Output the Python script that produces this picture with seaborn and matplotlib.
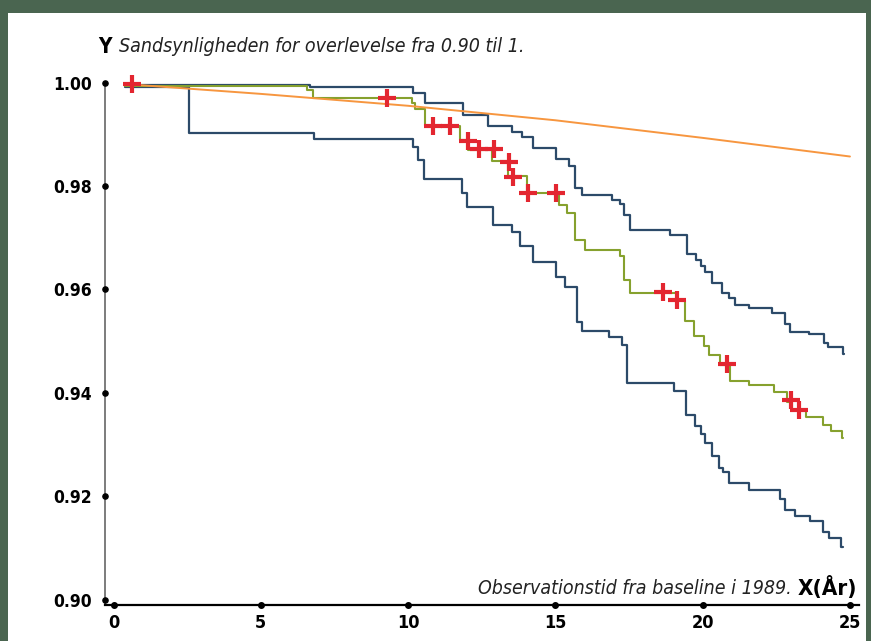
import matplotlib
matplotlib.use("Agg")
import matplotlib.pyplot as plt
import seaborn as sns
from matplotlib.patches import Rectangle

# --- data (time in years, survival probability) ---
upper_t = [0.39, 6.67, 10.16, 10.56, 11.88, 12.70, 13.53, 13.87, 14.23, 15.02, 15.45,
           15.68, 15.91, 16.92, 17.20, 17.32, 17.54, 18.90, 19.47, 19.79, 19.96, 20.09,
           20.32, 20.66, 20.88, 21.11, 21.56, 22.36, 22.81, 22.98, 23.60, 24.11, 24.25,
           24.75, 24.80]
upper_s = [0.9996, 0.9991, 0.9980, 0.9961, 0.9937, 0.9916, 0.9905, 0.9895, 0.9873, 0.9852, 0.9839,
           0.9797, 0.9783, 0.9772, 0.9765, 0.9744, 0.9715, 0.9705, 0.9669, 0.9657, 0.9645, 0.9633,
           0.9612, 0.9594, 0.9583, 0.9570, 0.9564, 0.9554, 0.9533, 0.9518, 0.9514, 0.9496, 0.9488,
           0.9475, 0.9475]

lower_t = [0.39, 2.57, 6.79, 10.16, 10.35, 10.55, 11.83, 12.00, 12.89, 13.51, 13.81, 14.24,
           15.01, 15.34, 15.73, 15.92, 16.81, 17.26, 17.44, 19.02, 19.45, 19.74, 19.94, 20.08,
           20.32, 20.56, 20.69, 20.88, 21.56, 22.64, 22.81, 23.15, 23.66, 24.08, 24.28, 24.71,
           24.76]
lower_s = [0.9992, 0.9902, 0.9891, 0.9876, 0.9851, 0.9813, 0.9786, 0.9760, 0.9725, 0.9712, 0.9684, 0.9654,
           0.9625, 0.9604, 0.9538, 0.9519, 0.9509, 0.9493, 0.9419, 0.9403, 0.9358, 0.9336, 0.9321, 0.9303,
           0.9279, 0.9256, 0.9248, 0.9227, 0.9213, 0.9195, 0.9174, 0.9162, 0.9152, 0.9131, 0.9120, 0.9103,
           0.9103]

km_t = [0.39, 6.57, 6.78, 10.14, 10.22, 10.58, 11.77, 12.02, 12.85, 13.38, 14.04, 15.12,
        15.39, 15.68, 16.00, 17.20, 17.32, 17.52, 19.13, 19.41, 19.69, 20.03, 20.20, 20.60,
        20.92, 21.56, 22.41, 22.87, 23.04, 23.51, 24.09, 24.34, 24.73, 24.78]
km_s = [0.9994, 0.9986, 0.9971, 0.9960, 0.9948, 0.9915, 0.9889, 0.9870, 0.9849, 0.9819, 0.9786, 0.9763,
        0.9748, 0.9695, 0.9677, 0.9665, 0.9618, 0.9594, 0.9580, 0.9539, 0.9510, 0.9491, 0.9473, 0.9454,
        0.9424, 0.9416, 0.9401, 0.9383, 0.9367, 0.9353, 0.9338, 0.9327, 0.9313, 0.9313]

censor_t = [0.62, 9.30, 10.86, 11.43, 12.02, 12.42, 12.90, 13.41, 13.56, 14.07, 15.03,
            18.65, 19.13, 20.83, 23.00, 23.26]
censor_s = [0.9997, 0.9971, 0.9915, 0.9915, 0.9886, 0.9871, 0.9871, 0.9847, 0.9818, 0.9786, 0.9786,
            0.9596, 0.9579, 0.9456, 0.9387, 0.9367]

expected_t = [0.4, 5, 10, 15, 20, 25]
expected_s = [0.9997, 0.9978, 0.9955, 0.9927, 0.9893, 0.9857]

x_ticks = [0, 5, 10, 15, 20, 25]
y_ticks = [0.90, 0.92, 0.94, 0.96, 0.98, 1.00]

navy = '#2c4a69'
green = '#86a12e'
orange = '#f7963f'
red = '#e32630'

sns.set_style("white")
plt.rcParams['font.family'] = ['DejaVu Sans']
plt.rcParams['font.stretch'] = 'condensed'

W, H = 871, 641
fig = plt.figure(figsize=(W / 100, H / 100), dpi=100)
fig.patch.set_facecolor('#4a6550')
fig.add_artist(Rectangle((8 / W, 0), (866 - 8) / W, (H - 13) / H, transform=fig.transFigure,
                         facecolor='white', edgecolor='none', zorder=0))

ax = fig.add_axes([104.7 / W, 36.5 / H, 754.1 / W, 522 / H])
ax.patch.set_alpha(0)

# confidence band borders and survival curve
sns.lineplot(x=upper_t, y=upper_s, drawstyle='steps-post', color=navy, lw=1.6, ax=ax)
sns.lineplot(x=lower_t, y=lower_s, drawstyle='steps-post', color=navy, lw=1.6, ax=ax)
sns.lineplot(x=km_t, y=km_s, drawstyle='steps-post', color=green, lw=1.5, ax=ax)
sns.lineplot(x=expected_t, y=expected_s, color=orange, lw=1.4, ax=ax)
sns.scatterplot(x=censor_t, y=censor_s, marker='+', s=160, color=red, linewidth=3,
                ax=ax, zorder=6, clip_on=False)

xlo, xhi = -0.3, 25.3
ylo, yhi = 0.89913, 1.0
ax.set_xlim(xlo, xhi)
ax.set_ylim(ylo, yhi)

for s in ['top', 'right']:
    ax.spines[s].set_visible(False)
ax.spines['left'].set_color('#666666')
ax.spines['left'].set_linewidth(1.2)
ax.spines['bottom'].set_color('black')
ax.spines['bottom'].set_linewidth(1.6)

ax.set_xticks(x_ticks)
ax.set_xticklabels([str(v) for v in x_ticks], fontsize=13, fontweight='bold', fontstretch='condensed')
ax.set_yticks(y_ticks)
ax.set_yticklabels([f'{v:.2f}' for v in y_ticks], fontsize=12.5, fontweight='bold', fontstretch='condensed')
ax.tick_params(axis='x', length=0, pad=7, labelcolor='black')
ax.tick_params(axis='y', length=0, pad=9, labelcolor='black')

# dot tick marks
ax.scatter(x_ticks, [ylo] * len(x_ticks), s=16, color='black', clip_on=False, zorder=7)
ax.scatter([xlo] * len(y_ticks), y_ticks, s=14, color='black', clip_on=False, zorder=7)

fig.text(98 / W, 1 - 47 / H, 'Y', fontsize=15, fontweight='bold', va='center', ha='left',
         color='black', fontstretch='condensed')
fig.text(119 / W, 1 - 47 / H, 'Sandsynligheden for overlevelse fra 0.90 til 1.',
         fontsize=14, style='italic', va='center', ha='left', color='#222222', fontstretch='condensed')
fig.text(792 / W, 1 - 588 / H, 'Observationstid fra baseline i 1989.',
         fontsize=14, style='italic', va='center', ha='right', color='#222222', fontstretch='condensed')
fig.text(798 / W, 1 - 587 / H, 'X(År)', fontsize=16, fontweight='bold', va='center', ha='left',
         color='black', fontstretch='condensed')

fig.savefig('out.png', dpi=100, facecolor=fig.get_facecolor())
